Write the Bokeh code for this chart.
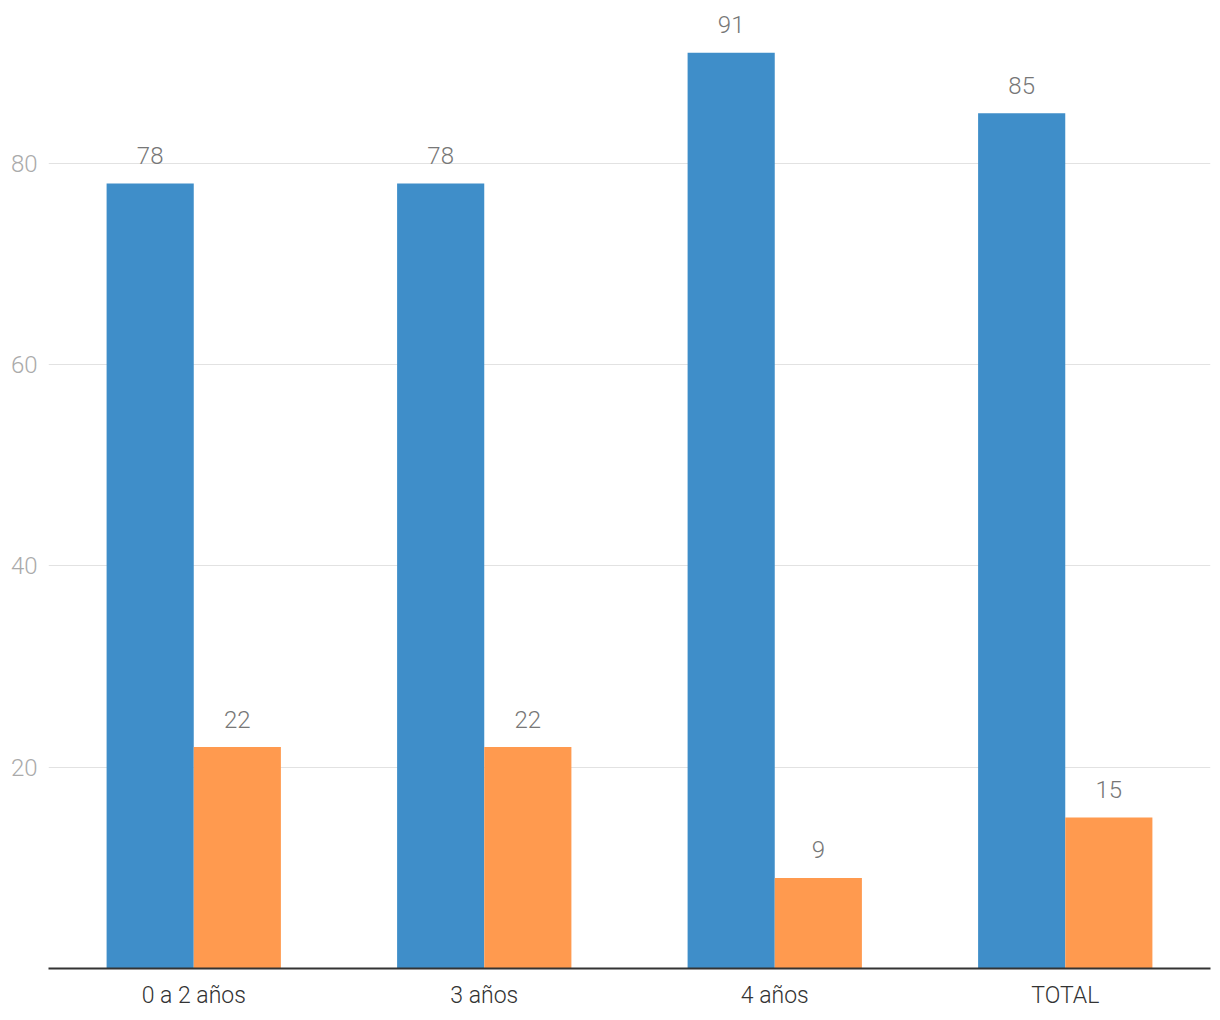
from bokeh.plotting import figure
from bokeh.models import ColumnDataSource, FactorRange, Range1d, FixedTicker
from bokeh.transform import dodge
from bokeh.core.properties import value
from bokeh.embed import file_html
from bokeh.resources import INLINE

categories = ["0 a 2 años", "3 años", "4 años", "TOTAL"]
serie_azul = [78, 78, 91, 85]
serie_naranja = [22, 22, 9, 15]
y_ticks = [20, 40, 60, 80]

BLUE = "#3f8ec9"
ORANGE = "#ff9a4f"
FONT = "Roboto Light"

src = ColumnDataSource(dict(
    cat=categories,
    a=serie_azul,
    b=serie_naranja,
    a_lbl=[str(v) for v in serie_azul],
    b_lbl=[str(v) for v in serie_naranja],
))

p = figure(width=1212, height=1012, output_backend="svg", toolbar_location=None,
           x_range=FactorRange(factors=categories, range_padding=0),
           y_range=Range1d(0, 95.4))
p.min_border_left = 48
p.min_border_right = 2
p.min_border_top = 8
p.min_border_bottom = 44
p.outline_line_color = None
p.background_fill_color = "white"
p.border_fill_color = "white"

p.vbar(x=dodge("cat", -0.15, range=p.x_range), top="a", width=0.3, source=src,
       fill_color=BLUE, line_color=None)
p.vbar(x=dodge("cat", 0.15, range=p.x_range), top="b", width=0.3, source=src,
       fill_color=ORANGE, line_color=None)

for col, lbl, off in (("a", "a_lbl", -0.15), ("b", "b_lbl", 0.15)):
    p.text(x=dodge("cat", off, range=p.x_range), y=col, text=lbl, source=src,
           text_align="center", text_baseline="alphabetic", y_offset=-28,
           text_font=value(FONT), text_font_size="24px", text_color="#777777")

p.xgrid.grid_line_color = None
p.ygrid.grid_line_color = "#e2e2e2"
p.ygrid.grid_line_width = 1
p.ygrid.ticker = FixedTicker(ticks=y_ticks)

ya = p.yaxis[0]
ya.ticker = FixedTicker(ticks=y_ticks)
ya.axis_line_color = None
ya.major_tick_line_color = None
ya.minor_tick_line_color = None
ya.major_label_text_font = FONT
ya.major_label_text_font_size = "24px"
ya.major_label_text_color = "#aaaaaa"
ya.major_label_standoff = 5

xa = p.xaxis[0]
xa.axis_line_color = "#333333"
xa.axis_line_width = 2
xa.major_tick_line_color = None
xa.minor_tick_line_color = None
xa.major_label_text_font = FONT
xa.major_label_text_font_size = "23px"
xa.major_label_text_color = "#333333"
xa.major_label_standoff = 7

open("out.html", "w").write(file_html(p, INLINE))
